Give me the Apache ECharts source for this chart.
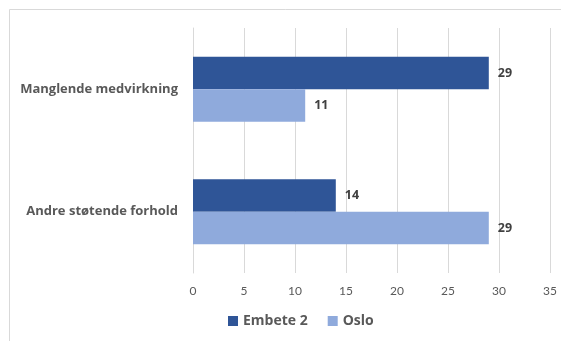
<!DOCTYPE html>
<html><head><meta charset="utf-8">
<script src="https://cdn.jsdelivr.net/npm/echarts@6/dist/echarts.min.js"></script>
<style>html,body{margin:0;padding:0;background:#fff}#c{width:561px;height:341px}</style>
</head><body><div id="c"></div>
<script>
const categories = ["Manglende medvirkning", "Andre støtende forhold"];
const embete2 = [29, 14];
const oslo = [11, 29];
const xTicks = [0, 5, 10, 15, 20, 25, 30, 35];

const chart = echarts.init(document.getElementById('c'), null, {renderer: 'canvas'});
const font = 'Lato, "Open Sans", sans-serif';
const bfont = '"Open Sans", Lato, sans-serif';
chart.setOption({
  animation: false,
  backgroundColor: '#fff',
  graphic: [{
    type: 'rect', silent: true,
    shape: {x: 9.5, y: 9.5, width: 600, height: 400},
    style: {fill: 'none', stroke: '#D9D9D9', lineWidth: 1}
  }],
  grid: {left: 193, right: 11, top: 28, bottom: 68, containLabel: false},
  legend: {
    data: ['Embete 2', 'Oslo'],
    bottom: 8, left: 223,
    icon: 'rect', itemWidth: 10, itemHeight: 10, itemGap: 20, itemTextGap: 5,
    textStyle: {fontFamily: bfont, fontWeight: 'bold', fontSize: 14, color: '#595959'}
  },
  xAxis: {
    type: 'value', min: xTicks[0], max: xTicks[xTicks.length - 1], interval: 5,
    axisLine: {show: false}, axisTick: {show: false},
    splitLine: {lineStyle: {color: '#D9D9D9', width: 1}},
    axisLabel: {fontFamily: font, fontSize: 12, color: '#595959', margin: 12}
  },
  yAxis: {
    type: 'category', data: categories, inverse: true,
    axisLine: {show: true, lineStyle: {color: '#D9D9D9'}}, axisTick: {show: false},
    axisLabel: {fontFamily: bfont, fontSize: 13, fontWeight: 'bold', color: '#595959', margin: 15}
  },
  series: [
    {name: 'Embete 2', type: 'bar', data: embete2, barGap: '0%', barCategoryGap: '47%',
     itemStyle: {color: '#2F5597'},
     label: {show: true, position: 'right', distance: 9, fontFamily: bfont, fontWeight: 'bold', fontSize: 12.5, color: '#404040'}},
    {name: 'Oslo', type: 'bar', data: oslo, barGap: '0%', barCategoryGap: '47%',
     itemStyle: {color: '#8FAADC'},
     label: {show: true, position: 'right', distance: 9, fontFamily: bfont, fontWeight: 'bold', fontSize: 12.5, color: '#404040'}}
  ]
});
</script></body></html>
